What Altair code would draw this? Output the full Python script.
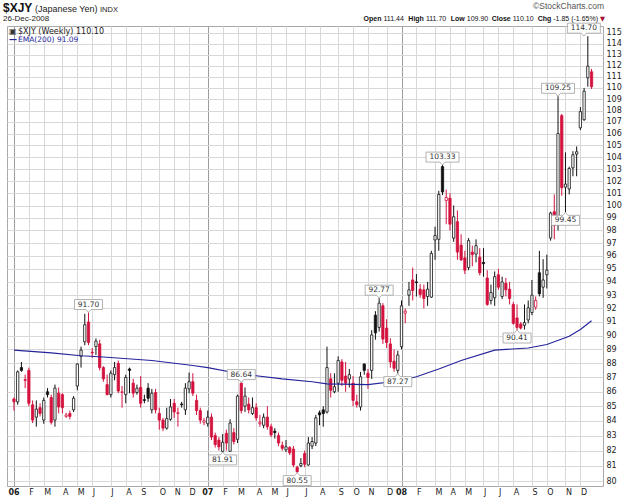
import altair as alt
import pandas as pd
from datetime import datetime, timedelta, timezone

# ---------------- data (weekly, first week ending 6-Jan-2006) ----------------
opens = [85.5, 85.3, 87.7, 86.85, 87.5, 85.1, 84.25, 84.9, 84.05, 86.0, 85.6, 84.05, 85.9, 85.8, 84.3, 84.5, 84.75, 86.4, 88.5, 89.55,
         91.0, 88.8, 89.2, 89.4, 87.7, 86.5, 85.8, 87.2, 88.0, 85.95, 85.8, 87.6, 86.6, 85.95, 86.3, 85.45, 86.25, 84.75, 85.95, 84.5,
         84.05, 83.5, 84.1, 85.2, 84.5, 85.15, 84.75, 86.2, 86.7, 85.4, 84.7, 83.9,
         83.8, 84.25, 83.0, 82.7, 81.95, 83.15, 81.95, 83.2, 82.75, 86.6, 85.0, 85.15, 84.5, 84.9, 83.8, 83.7, 84.25, 83.6, 83.3, 83.0,
         82.35, 82.05, 82.2, 82.1, 80.9, 81.0, 81.8, 81.05, 82.3, 82.5, 84.55, 84.75, 84.6, 86.9, 86.0, 86.6, 88.1, 87.1, 86.9, 86.6,
         85.3, 84.95, 87.95, 87.3, 87.5, 91.5, 90.6, 92.2, 90.55, 89.4, 88.15, 87.5,
         89.2, 91.65, 93.0, 94.15, 94.0, 93.45, 93.4, 92.9, 92.85, 97.25, 97.3, 103.2, 100.4, 100.6, 97.4, 98.7, 96.85, 95.85, 95.1, 96.3,
         96.15, 95.9, 95.5, 94.3, 92.6, 92.8, 94.55, 92.9, 93.9, 93.45, 92.3, 91.3, 90.85, 90.75, 91.15, 91.7, 92.1, 94.7, 93.6, 94.55,
         97.4, 99.5, 98.45, 107.55, 101.5, 101.35, 103.1, 104.25, 106.5, 107.2, 110.9, 111.44]
highs = [85.6, 87.5, 88.1, 87.2, 87.7, 85.4, 85.4, 85.2, 85.6, 86.25, 85.8, 86.5, 86.3, 85.9, 84.55, 84.7, 85.7, 88.0, 89.2, 91.6,
         91.7, 89.1, 89.8, 89.7, 87.8, 87.2, 87.5, 88.1, 88.2, 86.4, 87.2, 87.7, 86.9, 86.5, 87.1, 85.8, 86.6, 86.2, 86.2, 84.9,
         84.2, 84.9, 85.5, 85.5, 84.9, 85.3, 86.6, 87.35, 87.3, 85.8, 84.9, 84.2,
         84.7, 84.5, 83.2, 82.9, 83.1, 83.4, 84.1, 83.5, 85.8, 86.64, 86.3, 85.6, 85.6, 85.2, 84.4, 84.5, 85.0, 83.8, 83.5, 83.2,
         82.6, 82.7, 82.3, 82.3, 81.0, 81.5, 82.0, 82.9, 82.9, 84.4, 84.7, 85.0, 89.2, 87.3, 87.3, 88.5, 88.3, 88.1, 87.6, 87.1,
         85.8, 87.4, 88.0, 87.6, 90.4, 91.8, 92.77, 92.4, 91.2, 89.8, 89.0, 88.9,
         92.6, 92.0, 94.0, 95.1, 94.6, 93.85, 93.8, 94.0, 96.4, 98.3, 101.2, 103.33, 101.3, 101.0, 100.0, 99.6, 97.7, 96.4, 97.4, 96.8,
         97.3, 96.6, 96.6, 94.9, 93.8, 94.8, 95.0, 94.4, 94.3, 94.0, 92.5, 92.3, 91.0, 92.3, 92.6, 94.15, 92.9, 96.4, 95.75, 96.1,
         99.5, 100.9, 109.25, 107.7, 104.4, 103.2, 104.5, 104.9, 108.3, 110.0, 114.7, 111.7]
lows = [84.7, 85.1, 87.4, 86.25, 85.0, 83.85, 83.6, 84.3, 83.8, 85.6, 83.75, 83.6, 84.5, 84.5, 84.2, 84.1, 84.6, 86.1, 87.7, 89.3,
        89.3, 88.4, 88.6, 87.5, 86.7, 85.75, 85.6, 86.8, 85.9, 84.9, 85.2, 85.9, 85.6, 85.8, 84.9, 85.2, 85.3, 84.5, 84.5, 83.4,
        83.3, 83.4, 84.0, 84.2, 83.6, 84.9, 84.4, 85.9, 85.7, 84.4, 83.8, 83.7,
        83.6, 82.7, 82.2, 82.0, 81.91, 82.0, 81.95, 82.4, 82.5, 84.5, 84.6, 84.5, 84.4, 84.0, 83.6, 83.5, 83.4, 82.9, 82.8, 82.3,
        82.0, 81.9, 81.7, 80.9, 80.55, 80.9, 80.9, 81.0, 82.1, 82.3, 83.7, 83.6, 84.5, 85.6, 85.9, 86.0, 86.4, 86.0, 86.3, 85.0,
        84.9, 84.7, 87.2, 86.2, 86.9, 89.7, 90.3, 89.4, 89.1, 87.7, 87.4, 87.27,
        89.0, 90.9, 92.2, 92.6, 92.9, 92.8, 92.0, 92.2, 92.8, 95.7, 96.4, 100.85, 98.5, 98.0, 97.1, 95.7, 95.6, 94.6, 94.9, 95.2,
        95.5, 94.5, 94.4, 92.2, 92.3, 92.2, 93.4, 92.7, 92.9, 92.3, 90.8, 90.41, 90.45, 90.45, 90.9, 91.5, 91.9, 92.9, 92.8, 93.5,
        97.2, 97.3, 98.0, 100.8, 99.45, 100.9, 102.4, 102.4, 106.3, 107.1, 110.1, 109.9]
closes = [85.3, 87.4, 87.5, 86.8, 85.2, 84.05, 84.8, 84.5, 85.4, 85.8, 83.9, 86.25, 84.95, 84.9, 84.4, 84.3, 85.55, 87.95, 88.95, 90.8,
          89.5, 88.75, 89.6, 87.7, 86.9, 85.8, 87.3, 87.7, 86.05, 86.0, 87.0, 87.5, 85.9, 86.25, 85.2, 85.4, 85.55, 85.9, 84.75, 84.05,
          83.5, 84.15, 84.95, 84.6, 84.55, 85.1, 86.25, 86.7, 85.9, 84.7, 84.05, 84.0,
          84.25, 82.9, 82.4, 82.25, 82.55, 82.5, 83.85, 82.6, 85.7, 84.7, 85.7, 84.75, 84.9, 84.2, 83.9, 84.25, 83.6, 83.05, 83.2, 82.5,
          82.15, 82.25, 81.85, 81.05, 80.6, 81.15, 81.1, 82.5, 82.6, 84.2, 84.4, 84.5, 87.7, 86.1, 86.35, 88.2, 86.8, 86.6, 87.2, 85.4,
          85.1, 87.05, 87.5, 87.0, 90.05, 90.2, 92.4, 89.75, 89.5, 88.1, 87.65, 88.6,
          92.2, 91.8, 93.4, 93.35, 93.95, 93.05, 92.75, 93.45, 96.2, 97.6, 100.9, 101.1, 100.65, 98.5, 99.1, 96.3, 95.7, 94.9, 97.2, 96.1,
          96.8, 94.7, 95.4, 92.3, 93.2, 94.4, 93.6, 94.0, 93.4, 92.75, 90.9, 90.6, 90.55, 90.95, 92.05, 93.0, 92.6, 93.1, 94.15, 94.9,
          99.4, 98.4, 106.0, 101.45, 101.75, 103.05, 104.2, 104.45, 107.9, 109.7, 111.95, 110.1]

ema_weeks = [0, 10, 18, 24, 37, 48, 52, 61, 72, 80, 84, 95, 103, 108, 114, 120, 129, 138, 143, 149, 152, 155]
ema_vals = [88.95, 88.75, 88.55, 88.45, 88.2, 87.85, 87.7, 87.25, 86.9, 86.7, 86.55, 86.5, 86.75, 87.05, 87.6, 88.2,
            88.95, 89.1, 89.35, 89.95, 90.45, 91.09]

swing_weeks = [20, 61, 56, 76, 98, 103, 115, 135, 146, 148, 154]
swing_vals = [91.70, 86.64, 81.91, 80.55, 92.77, 87.27, 103.33, 90.41, 109.25, 99.45, 114.70]
swing_kind = ["H", "H", "L", "L", "H", "L", "H", "L", "H", "L", "H"]

y_ticks = list(range(80, 116))

quote_parts = [("Open", "bold"), ("111.44", "normal"), ("High", "bold"), ("111.70", "normal"),
               ("Low", "bold"), ("109.90", "normal"), ("Close", "bold"), ("110.10", "normal"),
               ("Chg", "bold"), ("-1.85 (-1.65%)", "normal")]

RED = "#d4123e"
BLACK = "#111111"
EMA_BLUE = "#23239b"

# ---------------- tables ----------------
t0 = datetime(2006, 1, 6, tzinfo=timezone.utc)
dates = [t0 + timedelta(weeks=i) for i in range(len(opens))]


def ms(d):
    return int(d.timestamp() * 1000)


rows = []
for i in range(len(opens)):
    o, h, l, c = opens[i], highs[i], lows[i], closes[i]
    col = RED if (i == 0 or c < closes[i - 1]) else BLACK
    fill = "white" if c > o else col
    rows.append(dict(t=ms(dates[i]), o=o, h=h, l=l, c=c, col=col, fill=fill))
df = pd.DataFrame(rows)

ema_df = pd.DataFrame({"t": [ms(dates[w]) for w in ema_weeks], "v": ema_vals})


def box_path(label, kind):
    w = 5.0 * len(label) + 3.0
    k = 2.0 / w
    hy = 5.0 * k
    px = 2.5 * k
    tip = 8.0 * k
    if kind == "H":
        return (f"M-1,{-hy:.4f}L1,{-hy:.4f}L1,{hy:.4f}L{px:.4f},{hy:.4f}L0,{tip:.4f}"
                f"L{-px:.4f},{hy:.4f}L-1,{hy:.4f}Z"), w * w
    return (f"M-1,{hy:.4f}L1,{hy:.4f}L1,{-hy:.4f}L{px:.4f},{-hy:.4f}L0,{-tip:.4f}"
            f"L{-px:.4f},{-hy:.4f}L-1,{-hy:.4f}Z"), w * w


sw_rows = []
for w, v, k in zip(swing_weeks, swing_vals, swing_kind):
    lab = f"{v:.2f}"
    p, s = box_path(lab, k)
    sw_rows.append(dict(t=ms(dates[w]), v=v, lab=lab, kind=k, path=p, sz=s))
sw_df = pd.DataFrame(sw_rows)

month_vals = [ms(d) for i, d in enumerate(dates) if i == 0 or d.month != dates[i - 1].month]

# ---------------- geometry ----------------
W, H = 596, 460
PAD_L, PAD_T = 7, 26
wk = 7 * 86400000
step = 3.79
dom0 = ms(t0) - (2.0 / step) * wk
dom1 = dom0 + (W / step) * wk

xs = alt.Scale(type="utc", domain=[dom0, dom1])
ys = alt.Scale(type="log", domain=[79.68, 115.65], nice=False, zero=False)

year_test = "utcmonth(datum.value) == 0"
xaxis = alt.Axis(
    values=month_vals, title=None, ticks=False, domain=False, grid=True,
    gridColor={"condition": {"test": year_test, "value": "#9c9c9c"}, "value": "#d8d8d8"},
    gridWidth=1,
    labelExpr="utcmonth(datum.value) == 0 ? utcFormat(datum.value, '%y') : substring(utcFormat(datum.value, '%b'), 0, 1)",
    labelFontWeight={"condition": {"test": year_test, "value": "bold"}, "value": "normal"},
    labelOffset={"condition": {"test": year_test, "value": -6}, "value": 0},
    labelAlign="left", labelFontSize=8, labelFont="DejaVu Sans", labelColor="#222",
    labelPadding=2, labelOverlap=False, labelFlush=False,
)
yaxis = alt.Axis(
    orient="right", values=y_ticks, title=None, ticks=False, domain=False, grid=True,
    gridColor="#d8d8d8", labelFontSize=8, labelFont="DejaVu Sans", labelColor="#222",
    labelPadding=3, format="d", labelOverlap=False, labelFlush=False,
)
X = dict(scale=xs, axis=xaxis)
Y = dict(scale=ys, axis=yaxis)

base = alt.Chart(df)
wicks = base.mark_rule(strokeWidth=1).encode(
    x=alt.X("t:T", **X),
    y=alt.Y("l:Q", **Y),
    y2="h:Q",
    color=alt.Color("col:N", scale=None),
)
bodies = base.mark_bar(size=2.3, strokeWidth=0.8).encode(
    x=alt.X("t:T", **X),
    y=alt.Y("o:Q", **Y),
    y2="c:Q",
    fill=alt.Fill("fill:N", scale=None),
    stroke=alt.Stroke("col:N", scale=None),
)
ema = alt.Chart(ema_df).mark_line(color=EMA_BLUE, strokeWidth=1.1).encode(
    x=alt.X("t:T", **X),
    y=alt.Y("v:Q", **Y),
)


def swing_layer(kind, yoff, xoff=0.0, test=None):
    src = alt.Chart(sw_df).transform_filter(f"datum.kind == '{kind}'")
    if test:
        src = src.transform_filter(test)
    enc = dict(x=alt.X("t:T", **X), y=alt.Y("v:Q", **Y))
    box = src.mark_point(filled=True, fill="white", stroke="#a0a0a0", strokeWidth=0.8,
                         opacity=1, fillOpacity=1, yOffset=yoff, xOffset=xoff).encode(
        shape=alt.Shape("path:N", scale=None), size=alt.Size("sz:Q", scale=None), **enc)
    txt = src.mark_text(fontSize=7.5, font="DejaVu Sans", color="#333", yOffset=yoff,
                        xOffset=xoff, baseline="middle").encode(text="lab:N", **enc)
    return box + txt


swings = (swing_layer("H", -8, 0, "datum.v < 114") + swing_layer("H", -8, -4, "datum.v >= 114")
          + swing_layer("L", 8))


def label(text, x_abs, y_abs, size=8, weight="normal", color="#222", align="left", font="DejaVu Sans"):
    return alt.Chart(pd.DataFrame({"s": [text]})).mark_text(
        fontSize=size, fontWeight=weight, color=color, align=align, baseline="alphabetic", font=font,
    ).encode(text="s:N", x=alt.value(x_abs - PAD_L), y=alt.value(y_abs - PAD_T))


hdr = [
    label("$XJY", 3, 12, 12, "bold", "#111", font="Liberation Sans"),
    label("(Japanese Yen)", 35, 12, 9, font="Liberation Sans"),
    label("INDX", 100, 12, 7.5, font="Liberation Sans"),
    label("26-Dec-2008", 3, 21, 8, font="Liberation Sans"),
    label("\u00a9StockCharts.com", 604, 9, 8.5, color="#555", align="right", font="Liberation Sans"),
]

# approximate Arial advance widths (em) for laying out the quote line
ARIAL = {"O": .778, "p": .611, "e": .556, "n": .611, "H": .722, "i": .278, "g": .611, "h": .611, "L": .611,
         "o": .611, "w": .778, "C": .722, "l": .278, "s": .556, "-": .333, "(": .333, ")": .333, "%": .889,
         ".": .278, " ": .278}
QFS = 7.0


def text_w(s):
    return sum(ARIAL.get(ch, .556) for ch in s) * QFS


widths = [text_w(t) for t, _ in quote_parts]
total = sum(widths) + 2.0 * 5 + 3.5 * 4 + 6
x = 604 - total
for k, ((t, wgt), wd) in enumerate(zip(quote_parts, widths)):
    hdr.append(label(t, x, 21, QFS, wgt, "#111", font="Liberation Sans"))
    x += wd + (2.0 if k % 2 == 0 else 3.5)
hdr.append(label("\u25bc", x - 1.5, 21, 6.5, color="#a01030", font="DejaVu Sans"))
hdr.append(label("\u25a3", 9, 34, 8, color="#333"))
hdr.append(label("$XJY (Weekly) 110.10", 18, 34, 8, color="#222"))
hdr.append(label("\u2014", 9, 42, 8, "bold", EMA_BLUE))
hdr.append(label("EMA(200) 91.09", 18, 42, 7.5, color=EMA_BLUE))

chart = alt.layer(wicks, bodies, ema, swings, *hdr).properties(
    width=W, height=H,
    autosize=alt.AutoSizeParams(type="none"),
    padding={"left": PAD_L, "top": PAD_T, "right": 625 - PAD_L - W, "bottom": 500 - PAD_T - H},
    background="white",
).configure_view(stroke="#a8a8a8", strokeWidth=1)

chart.save("out.html", embed_options={"renderer": "svg", "actions": False})
